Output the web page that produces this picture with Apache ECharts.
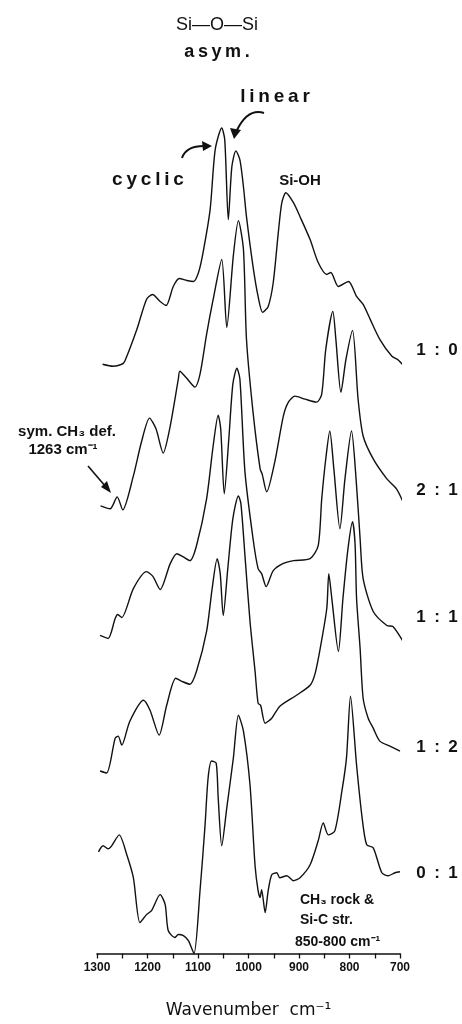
<!DOCTYPE html>
<html>
<head>
<meta charset="utf-8">
<script src="https://cdn.jsdelivr.net/npm/echarts@6/dist/echarts.min.js"></script>
<style>
  html, body { margin: 0; padding: 0; background: #fff; }
  #chart { width: 462px; height: 1024px; }
</style>
</head>
<body>
<div id="chart"></div>
<script>
// IR spectra of siloxane films, stacked with a vertical offset (arbitrary absorbance units).
// Wavenumbers in cm-1, descending.

const ratioLabels = ['1 : 0', '2 : 1', '1 : 1', '1 : 2', '0 : 1'];
const xTickValues = [1300, 1200, 1100, 1000, 900, 800, 700];

// 1 : 0
const wn10 = [1289,1268,1251,1245,1221,1202,1190,1175,1163,1149,1137,1122,1109,1099,1090,1076,1066,1053,1047,1040,1033,1025,1017,1010,1004,991,981,972,961,951,941,934,926,911,898,878,862,845,837,822,802,786,773,759,740,716,703,687];
const ab10 = [591,589,591,594,626,656,661,654,650,669,677,675,674,683,703,746,806,828,816,736,789,805,796,769,739,689,659,643,649,673,723,753,763,753,739,716,693,681,683,669,674,659,651,636,616,599,595,586];

// 2 : 1
const wn21 = [1293,1274,1260,1249,1228,1212,1196,1183,1169,1155,1139,1136,1124,1106,1096,1083,1070,1053,1043,1030,1020,1010,1004,991,977,973,964,948,931,921,908,888,865,855,847,833,827,817,807,794,783,773,753,726,707,694];
const ab21 = [449,446,458,445,479,513,537,526,502,529,576,584,578,568,581,621,656,696,628,700,735,706,616,543,486,481,463,493,539,553,559,556,553,561,606,644,616,563,596,625,556,519,496,476,466,453];

// 1 : 1
const wn11 = [1294,1278,1264,1259,1251,1228,1202,1189,1175,1155,1142,1130,1116,1103,1083,1070,1060,1055,1048,1039,1031,1023,1017,1007,991,981,974,965,951,932,911,878,862,855,847,839,831,819,809,796,787,779,773,753,726,714,694];
const ab11 = [319,316,336,340,337,366,383,378,365,391,401,398,394,409,456,509,540,526,461,516,571,587,576,483,416,386,381,368,384,391,394,396,409,456,496,524,486,426,476,524,476,416,376,343,329,328,313];

// 1 : 2
const wn12 = [1294,1281,1264,1258,1251,1235,1208,1195,1177,1162,1144,1132,1116,1103,1083,1072,1062,1056,1050,1041,1031,1020,1015,1007,997,987,981,976,967,954,938,905,878,868,858,845,841,835,822,813,803,794,789,786,779,773,763,753,740,720,700];
const ab12 = [183,181,216,218,209,233,254,244,219,249,276,273,270,283,323,366,396,381,339,386,436,459,451,399,333,283,251,249,231,236,248,259,269,281,306,346,381,356,303,356,406,433,411,356,306,256,236,226,213,208,203];

// 0 : 1
const wn01 = [1297,1288,1278,1271,1256,1241,1228,1215,1202,1192,1175,1165,1159,1146,1139,1129,1119,1108,1096,1086,1080,1073,1064,1060,1053,1043,1030,1020,1010,997,987,981,977,974,967,961,954,944,938,924,911,898,878,862,852,842,829,815,806,798,786,775,766,753,736,723,710,700];
const ab01 = [102,108,105,108,119,99,76,31,39,43,59,49,23,16,19,18,13,0,63,129,176,193,191,156,108,146,196,239,223,169,88,63,56,64,41,63,79,81,76,78,73,76,89,113,131,119,123,163,196,258,189,136,109,106,81,78,81,82];

const spectra = [
  { name: ratioLabels[0], wn: wn10, ab: ab10 },
  { name: ratioLabels[1], wn: wn21, ab: ab21 },
  { name: ratioLabels[2], wn: wn11, ab: ab11 },
  { name: ratioLabels[3], wn: wn12, ab: ab12 },
  { name: ratioLabels[4], wn: wn01, ab: ab01 }
];

const chart = echarts.init(document.getElementById('chart'), null, { renderer: 'canvas' });

const LABEL_FONT = "'Liberation Sans', Arial, sans-serif";
const TS = '\u2009'; // thin space used for the letter-spaced captions

function txt(text, x, y, font, align) {
  return {
    type: 'text',
    x: x, y: y,
    style: {
      text: text,
      font: font,
      fill: '#111',
      textAlign: align || 'center',
      textVerticalAlign: 'middle',
      verticalAlign: 'middle'
    },
    z: 10
  };
}

const ratioY = [350, 490, 617, 747, 873];

const graphics = [
  txt('Si\u2014O\u2014Si', 217, 25, "18px " + LABEL_FONT),
  txt(['a','s','y','m','.'].join(TS), 217, 52, "bold 18px " + LABEL_FONT),
  txt(['l','i','n','e','a','r'].join(TS), 275, 97, "bold 19px " + LABEL_FONT),
  txt(['c','y','c','l','i','c'].join(TS), 148, 180, "bold 19px " + LABEL_FONT),
  txt('Si-OH', 300, 181, "bold 15px " + LABEL_FONT),
  txt('sym. CH\u2083 def.', 67, 432, "bold 15px " + LABEL_FONT),
  txt('1263 cm\u207B\u00B9', 63, 450, "bold 15px " + LABEL_FONT),
  txt('CH\u2083 rock &', 300, 900, "bold 14px " + LABEL_FONT, 'left'),
  txt('Si-C str.', 300, 920, "bold 14px " + LABEL_FONT, 'left'),
  txt('850-800 cm\u207B\u00B9', 295, 942, "bold 14px " + LABEL_FONT, 'left'),
  // arrow to the linear peak
  {
    type: 'bezierCurve',
    shape: { x1: 264, y1: 113, cpx1: 248, cpy1: 108, x2: 237, y2: 130 },
    style: { stroke: '#111', lineWidth: 2, fill: null }, z: 10
  },
  {
    type: 'polygon',
    shape: { points: [[234, 139], [230, 128], [241, 130]] },
    style: { fill: '#111' }, z: 10
  },
  // arrow to the cyclic peak
  {
    type: 'bezierCurve',
    shape: { x1: 182, y1: 158, cpx1: 186, cpy1: 146, x2: 204, y2: 146 },
    style: { stroke: '#111', lineWidth: 2, fill: null }, z: 10
  },
  {
    type: 'polygon',
    shape: { points: [[212, 146], [202, 141], [203, 151]] },
    style: { fill: '#111' }, z: 10
  },
  // arrow to the 1263 cm-1 band
  {
    type: 'line',
    shape: { x1: 88, y1: 466, x2: 106, y2: 487 },
    style: { stroke: '#111', lineWidth: 1.6 }, z: 10
  },
  {
    type: 'polygon',
    shape: { points: [[111, 493], [101, 487], [107, 481]] },
    style: { fill: '#111' }, z: 10
  }
];

ratioLabels.forEach(function (lab, i) {
  graphics.push(txt(lab.replace(/ /g, '\u2002'), 437, ratioY[i], "bold 17px " + LABEL_FONT));
});

const option = {
  backgroundColor: '#ffffff',
  animation: false,
  grid: { left: 97, right: 62, top: 106, bottom: 68, containLabel: false },
  xAxis: {
    type: 'value',
    min: 700,
    max: 1300,
    interval: 100,
    inverse: true,
    name: 'Wavenumber  cm\u207B\u00B9',
    nameLocation: 'middle',
    nameGap: 57,
    nameTextStyle: {
      color: '#111',
      fontSize: 17,
      fontFamily: "'DejaVu Sans', sans-serif",
      verticalAlign: 'middle'
    },
    axisLine: { show: true, lineStyle: { color: '#111', width: 1.5 } },
    axisTick: { show: true, length: 5, lineStyle: { color: '#111', width: 1.3 } },
    minorTick: { show: true, splitNumber: 2, length: 5, lineStyle: { color: '#111', width: 1.3 } },
    axisLabel: {
      color: '#111',
      fontSize: 12,
      fontWeight: 'bold',
      fontFamily: LABEL_FONT,
      margin: 8,
      formatter: function (v) { return xTickValues.indexOf(v) >= 0 ? String(v) : ''; }
    },
    splitLine: { show: false },
    minorSplitLine: { show: false }
  },
  yAxis: {
    type: 'value',
    min: 0,
    max: 850,
    show: false
  },
  series: spectra.map(function (s) {
    return {
      name: s.name,
      type: 'line',
      data: s.wn.map(function (w, i) { return [w, s.ab[i]]; }),
      showSymbol: false,
      smooth: 0.25,
      clip: false,
      lineStyle: { color: '#111', width: 1.4 },
      silent: true
    };
  }),
  graphic: graphics
};

chart.setOption(option);
</script>
</body>
</html>
